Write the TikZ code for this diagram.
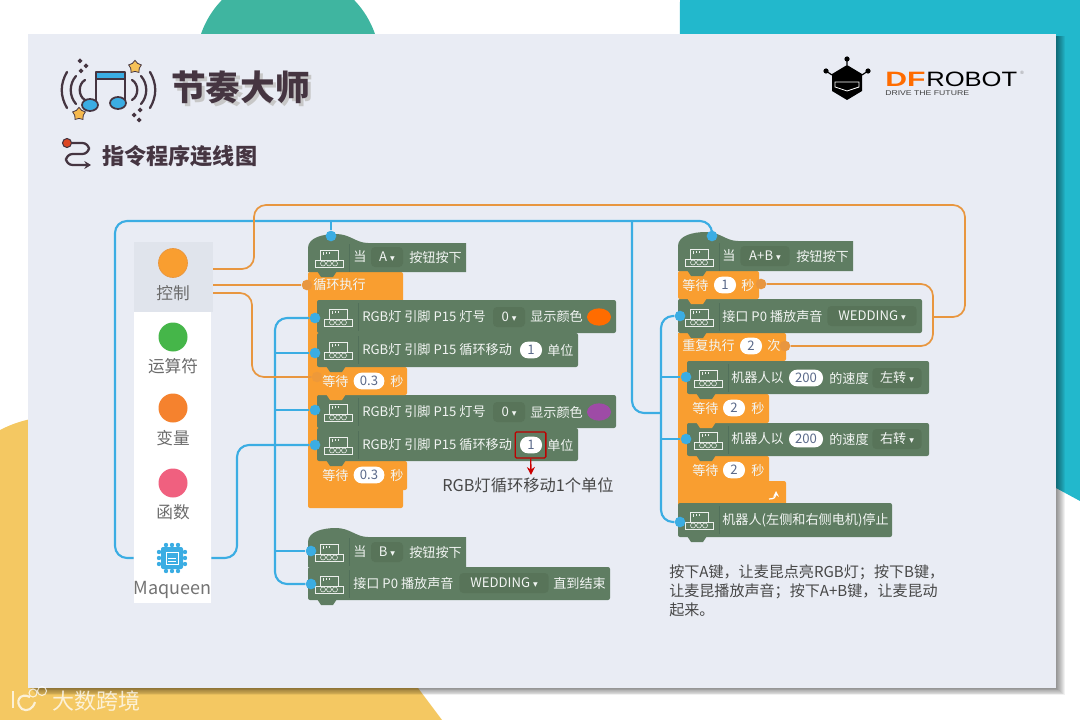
\documentclass[tikz,border=0pt]{standalone}
\usepackage{fontspec}
\usepackage{graphicx}
\setmainfont{Noto Sans CJK SC}
\newfontfamily\symfont{DejaVu Sans}
\newfontfamily\logofont{Liberation Sans}
\usetikzlibrary{shapes.geometric, arrows.meta}

\definecolor{cardbg}{HTML}{E9ECF4}
\definecolor{tealbg}{HTML}{22B8CC}
\definecolor{greenbg}{HTML}{3FB5A0}
\definecolor{yellowbg}{HTML}{F4C862}
\definecolor{blockgreen}{HTML}{5F7D62}
\definecolor{blockdark}{HTML}{587459}
\definecolor{blockline}{HTML}{52705A}
\definecolor{ctrlorange}{HTML}{F99E30}
\definecolor{wireblue}{HTML}{3BADE3}
\definecolor{wireorange}{HTML}{E8963F}
\definecolor{inkdark}{HTML}{453541}
\definecolor{pilltext}{HTML}{5B6A8A}

\tikzset{
  bluewire/.style={draw=wireblue, line width=1.6pt, rounded corners=9pt},
  orangewire/.style={draw=wireorange, line width=1.3pt, rounded corners=9pt},
  bluedot/.style={circle, fill=wireblue, inner sep=0pt, minimum size=8pt},
  orangedot/.style={circle, fill=wireorange, inner sep=0pt, minimum size=8pt},
  blocktxt/.style={font=\fontsize{9.85}{11}\selectfont, text=white!92!blockgreen, inner sep=0pt, anchor=west},
  whitepill/.style={fill=white, rounded corners=6pt, inner sep=0pt, minimum height=12.5pt, text=pilltext, font=\fontsize{9.85}{11}\selectfont},
  darkpill/.style={fill=blockdark, rounded corners=3pt, inner sep=0pt, minimum height=15pt, text=white!92!blockgreen, font=\fontsize{9.85}{11}\selectfont},
  palettelabel/.style={text=black!58, inner sep=0pt, font=\fontsize{12.5}{14}\selectfont},
  paletteitem/.style={inner sep=0pt, minimum width=58pt, minimum height=20pt},
  noticetxt/.style={text=black!72, inner sep=0pt, anchor=west, font=\fontsize{11.3}{13}\selectfont},
  roboticon/.pic={
    \draw[white!88!blockgreen, line width=.42pt]
      (-9,3) -- (-9,-8) -- (9,-8) -- (9,3)
      (-14,2) rectangle (14,9)
      (-6,-6) -- (-6,-3) (-3,-6) -- (-3,-4.5) (0,-6) -- (0,-4.5);
    \foreach \wx in {-6,0,6} \draw[white!88!blockgreen, line width=.42pt] (\wx,5.5) circle (2.5);
    \draw[blockline, line width=.5pt] (20,-14) -- (20,14);
  }
}
% x y box of a stacked block, tab below it
\newcommand{\stackblock}[5]{%
  \fill[#1, rounded corners=1.5pt] (#2,#3) rectangle (#4,#5);
  \fill[#1] (#2+9,#5-1) -- (#2+13,#5+5) -- (#2+25,#5+5) -- (#2+29,#5-1) -- cycle;
}
% block with a round cap on top
\newcommand{\hatblock}[4]{%
  \fill[blockgreen] (#1,#4) -- (#1,#2+14) .. controls (#1,#2+4) and (#1+14,#2) .. (#1+28,#2)
    .. controls (#1+42,#2) and (#1+48,#2+9) .. (#1+60,#2+9) -- (#3,#2+9) -- (#3,#4) -- cycle;
  \fill[blockgreen] (#1+9,#4-1) -- (#1+13,#4+5) -- (#1+25,#4+5) -- (#1+29,#4-1) -- cycle;
}
\newcommand{\dd}{{\symfont\fontsize{7}{8}\selectfont ▾}}

\begin{document}
\begin{tikzpicture}[x=.75pt, y=-.75pt]
  \useasboundingbox (0,0) rectangle (1080,720);
  \fill[white] (0,0) rectangle (1080,720);

  % backdrop shapes
  \fill[greenbg] (288,64) circle (92);
  \fill[tealbg] (680,0) -- (1080,0) -- (1080,501) -- (1056,488) -- (678,300) -- cycle;
  \fill[yellowbg] (0,430) .. controls (12,424) and (20,421) .. (40,417) -- (300,600) -- (418,688) -- (442,720) -- (0,720) -- cycle;

  % card with shadow
  \foreach \sh in {1,...,9} \fill[black, opacity=.055] (28+\sh,36) rectangle (1056+\sh,688+\sh*.8);
  \fill[cardbg] (28,34) rectangle (1056,688);

  % heading
  \foreach \ax/\ah in {63/18,72/14,81/10} {
    \draw[inkdark, line width=1.7pt, line cap=round] (\ax+4,90-\ah) .. controls (\ax-3,84) and (\ax-3,96) .. (\ax+4,90+\ah);
  }
  \foreach \ax/\ah in {154/18,145/14,136/10} {
    \draw[inkdark, line width=1.7pt, line cap=round] (\ax-4,90-\ah) .. controls (\ax+3,84) and (\ax+3,96) .. (\ax-4,90+\ah);
  }
  \fill[wireblue] (96,72) rectangle (125,79);
  \draw[inkdark, line width=2pt, line join=round] (96,104) -- (96,72) -- (125,72) -- (125,103);
  \draw[inkdark, line width=1pt] (96,79) -- (125,79);
  \draw[inkdark, fill=wireblue, line width=1.3pt] (90,105) ellipse (8 and 6);
  \draw[inkdark, fill=wireblue, line width=1.3pt] (118,103) ellipse (8 and 6);
  \node[star, star points=5, fill=yellowbg!90!orange, draw=inkdark, line width=.6pt, inner sep=0pt, minimum size=10pt] (staru) at (135,67) {};
  \node[star, star points=5, fill=yellowbg!80!orange, draw=inkdark, line width=.6pt, inner sep=0pt, minimum size=10pt] (starl) at (79,114) {};
  \foreach \sx/\sy in {80/61,86/66,81/71,140/110,134/115,139/120}
    \fill[inkdark] (\sx-2.5,\sy) -- (\sx,\sy-2.5) -- (\sx+2.5,\sy) -- (\sx,\sy+2.5) -- cycle;
  \node[text=inkdark, inner sep=0pt, anchor=west, font=\fontsize{26}{30}\bfseries\selectfont] (title) at (171,89)
    {\rlap{\hspace{2.4pt}\raisebox{-2.4pt}{\textcolor{black!22}{节奏大师}}}节奏大师};
  \draw[inkdark, line width=1.7pt, rounded corners=5pt, -{Stealth[length=5pt,width=6pt]}] (70,143) -- (89,143) -- (89,154) -- (66,154) -- (66,165) -- (91,165);
  \fill[red!45!brown, draw=inkdark, line width=.8pt] (67,143) circle (4.5);
  \node[text=inkdark, inner sep=0pt, anchor=west, font=\fontsize{16.6}{20}\bfseries\selectfont] (subtitle) at (102,156) {指令程序连线图};

  % robot logo
  \fill[black] (847,65) -- (862,74) -- (862,91) -- (847,100) -- (832,91) -- (832,74) -- cycle;
  \draw[black, line width=.9pt] (847,65) -- (847,59) (862,75) -- (868,71) (832,75) -- (826,71);
  \foreach \bx/\by in {847/59,868/71,826/71} \fill[black] (\bx,\by) circle (2.6);
  \draw[white, line width=.6pt] (835,82) -- (859,82) -- (859,87) -- (847,91) -- (835,87) -- cycle;
  \node[inner sep=0pt, anchor=west, text=orange!85!red, font=\logofont\fontsize{15.6}{16}\bfseries\selectfont] (logodf) at (885,79) {\scalebox{1.45}[1]{DF}};
  \node[inner sep=0pt, anchor=west, text=black, font=\logofont\fontsize{15.6}{16}\selectfont] (logorobot) at (926,79) {\scalebox{1.23}[1]{ROBOT}};
  \node[inner sep=0pt, anchor=west, text=black!75, font=\logofont\fontsize{5.2}{6}\selectfont] (logoline) at (885,93) {\scalebox{1.25}[1]{DRIVE THE FUTURE}};
  \node[inner sep=0pt, text=black!50, font=\logofont\fontsize{3.5}{4}\selectfont] (logoreg) at (1022,73) {®};

  % palette column
  \fill[white] (134,312) rectangle (211,603);
  \definecolor{panelgray}{HTML}{E0E4EC}
  \definecolor{opgreen}{HTML}{45B649}
  \definecolor{varorange}{HTML}{F5822E}
  \definecolor{funcpink}{HTML}{F0607F}
  \node[paletteitem, fill=panelgray, minimum width=59pt, minimum height=52.5pt] (ctrl) at (173.5,277) {};
  \fill[ctrlorange, draw=wireorange, line width=.5pt] (173,263) circle (14.5);
  \fill[opgreen] (173,337) circle (14.5);
  \fill[varorange] (173,408) circle (14.5);
  \fill[funcpink] (173,483) circle (14.5);
  \node[palettelabel] (ctrllbl) at (173,293) {控制};
  \node[palettelabel] (oplbl) at (173,366) {运算符};
  \node[palettelabel] (varlbl) at (173,438) {变量};
  \node[palettelabel] (funclbl) at (173,512) {函数};
  \node[paletteitem] (mq) at (172.5,558) {};
  \foreach \tk in {-6,0,6} {
    \fill[wireblue] (172+\tk,558-13) circle (2.2);
    \fill[wireblue] (172+\tk,558+13) circle (2.2);
    \fill[wireblue] (172-13,558+\tk) circle (2.2);
    \fill[wireblue] (172+13,558+\tk) circle (2.2);
  }
  \fill[wireblue, rounded corners=1.5pt] (161,547) rectangle (183,569);
  \draw[white, line width=.7pt] (166,552) rectangle (178,564) (168,558) -- (176,558) (168,561) -- (176,561);
  \node[palettelabel, text=black!55, font=\fontsize{13.5}{15}\selectfont] (mqlbl) at (172.5,590) {Maqueen};

  % left stacks
  \fill[ctrlorange, rounded corners=1.5pt] (308,272) rectangle (403,508);
  \stackblock{ctrlorange}{317}{461}{407}{490}
  \stackblock{blockgreen}{317}{428}{578}{461}
  \stackblock{blockgreen}{317}{395}{616}{428}
  \stackblock{ctrlorange}{317}{367}{407}{395}
  \stackblock{blockgreen}{317}{333}{578}{367}
  \stackblock{blockgreen}{317}{300}{616}{333}
  \hatblock{308}{234}{466}{272}
  \stackblock{blockgreen}{308}{567}{610}{600}
  \hatblock{308}{528}{466}{567}

  % right stack
  \fill[ctrlorange] (678,333) rectangle (691,505);
  \fill[ctrlorange, rounded corners=1.5pt] (678,481) rectangle (786,505);
  \fill[ctrlorange, rounded corners=1.5pt] (678,333) rectangle (786,361);
  \stackblock{blockgreen}{678}{503}{892}{537}
  \stackblock{ctrlorange}{687}{456}{769}{484}
  \stackblock{blockgreen}{687}{423}{929}{456}
  \stackblock{ctrlorange}{687}{394}{769}{423}
  \stackblock{blockgreen}{687}{361}{929}{394}
  \stackblock{blockgreen}{678}{299}{922}{333}
  \stackblock{ctrlorange}{678}{271}{759}{299}
  \hatblock{678}{232}{853}{271}

  % robot marks on the blocks
  \foreach \ix/\iy in {329/258,329/552,329/584,338/317,338/350,338/412,338/445,699/257,699/317,708/378,708/440,699/520}
    \pic at (\ix,\iy) {roboticon};

  % left block texts
  \node[blocktxt] (a0) at (353,257) {当};
  \node[darkpill, minimum width=24pt] (a1) at (387,257) {A \dd};
  \node[blocktxt] (a2) at (409,257) {按钮按下};
  \node[blocktxt] (loopa) at (313,285) {循环执行};
  \node[blocktxt] (l1) at (362,317) {RGB灯 引脚 P15 灯号};
  \node[darkpill, minimum width=24pt] (l1p) at (509,317) {0 \dd};
  \node[blocktxt] (l1b) at (530,317) {显示颜色};
  \node[fill=orange!85!red, ellipse, inner sep=0pt, minimum width=18pt, minimum height=13pt] (colora) at (599,317) {};
  \node[blocktxt] (l2) at (362,350) {RGB灯 引脚 P15 循环移动};
  \node[whitepill, minimum width=16.5pt] (l2p) at (531,350) {1};
  \node[blocktxt] (l2b) at (547,350) {单位};
  \node[blocktxt] (w1) at (322,381) {等待};
  \node[whitepill, minimum width=23pt] (w1p) at (369,381) {0.3};
  \node[blocktxt] (w1b) at (390,381) {秒};
  \node[blocktxt] (l3) at (362,412) {RGB灯 引脚 P15 灯号};
  \node[darkpill, minimum width=24pt] (l3p) at (509,412) {0 \dd};
  \node[blocktxt] (l3b) at (530,412) {显示颜色};
  \definecolor{colorpurple}{HTML}{9E4BA6}
  \node[fill=colorpurple, ellipse, inner sep=0pt, minimum width=18pt, minimum height=13pt] (colorb) at (599,412) {};
  \node[blocktxt] (l4) at (362,445) {RGB灯 引脚 P15 循环移动};
  \node[whitepill, minimum width=16.5pt] (l4p) at (531,445) {1};
  \node[blocktxt] (l4b) at (547,445) {单位};
  \node[blocktxt] (w2) at (322,475) {等待};
  \node[whitepill, minimum width=23pt] (w2p) at (369,475) {0.3};
  \node[blocktxt] (w2b) at (390,475) {秒};
  \node[blocktxt] (b0) at (353,552) {当};
  \node[darkpill, minimum width=24pt] (b1) at (387,552) {B \dd};
  \node[blocktxt] (b2) at (409,552) {按钮按下};
  \node[blocktxt] (s0) at (353,583) {接口 P0 播放声音};
  \node[darkpill, minimum width=67pt] (s1) at (504,583) {WEDDING \dd};
  \node[blocktxt] (s2) at (553,583) {直到结束};

  % note under the left stack
  \node[draw=red!75!black, line width=1pt, rounded corners=1pt, inner sep=0pt, minimum width=23pt, minimum height=19.5pt] (redbox) at (530.5,445) {};
  \node[noticetxt, font=\fontsize{12.2}{14}\selectfont] (redlbl) at (442,485) {RGB灯循环移动1个单位};
  \coordinate (redtip) at (531,475);
  \draw[red!80!black, line width=1pt, -{Stealth[length=6pt,width=6pt]}] (redbox) -- (redtip);

  % right block texts
  \node[blocktxt] (c0) at (722,256) {当};
  \node[darkpill, minimum width=37pt] (c1) at (765,256) {A+B \dd};
  \node[blocktxt] (c2) at (796,256) {按钮按下};
  \node[blocktxt] (w3) at (682,285) {等待};
  \node[whitepill, minimum width=16.5pt] (w3p) at (725,285) {1};
  \node[blocktxt] (w3b) at (741,285) {秒};
  \node[blocktxt] (p0) at (722,316) {接口 P0 播放声音};
  \node[darkpill, minimum width=67pt] (p1) at (872,316) {WEDDING \dd};
  \node[blocktxt] (rp0) at (682,346) {重复执行};
  \node[whitepill, minimum width=16.5pt] (rp1) at (751,346) {2};
  \node[blocktxt] (rp2) at (767,346) {次};
  \node[blocktxt] (m1) at (731,378) {机器人以};
  \node[whitepill, minimum width=25.5pt] (m1p) at (806,378) {200};
  \node[blocktxt] (m1b) at (829,378) {的速度};
  \node[darkpill, minimum width=37pt] (m1c) at (897,378) {左转 \dd};
  \node[blocktxt] (w4) at (692,408) {等待};
  \node[whitepill, minimum width=16.5pt] (w4p) at (734,408) {2};
  \node[blocktxt] (w4b) at (751,408) {秒};
  \node[blocktxt] (m2) at (731,439) {机器人以};
  \node[whitepill, minimum width=25.5pt] (m2p) at (806,439) {200};
  \node[blocktxt] (m2b) at (829,439) {的速度};
  \node[darkpill, minimum width=37pt] (m2c) at (897,439) {右转 \dd};
  \node[blocktxt] (w5) at (692,470) {等待};
  \node[whitepill, minimum width=16.5pt] (w5p) at (734,470) {2};
  \node[blocktxt] (w5b) at (751,470) {秒};
  \draw[white, line width=.9pt, -stealth] (769,499) .. controls (774,499) and (776,497) .. (776,491);
  \node[blocktxt] (stoptxt) at (722,520) {机器人(左侧和右侧电机)停止};
  \node[noticetxt] (help1) at (669,572) {按下A键，让麦昆点亮RGB灯；按下B键，};
  \node[noticetxt] (help2) at (669,591) {让麦昆播放声音；按下A+B键，让麦昆动};
  \node[noticetxt] (help3) at (669,610) {起来。};

  % wire ends on the blocks
  \node[bluedot] (dhata) at (331,236) {};
  \node[bluedot] (dl1) at (315,318) {};
  \node[bluedot] (dl2) at (315,353) {};
  \node[bluedot] (dl3) at (315,410) {};
  \node[bluedot] (dl4) at (315,445) {};
  \node[bluedot] (dhatb) at (311,551) {};
  \node[bluedot] (dplay) at (311,584) {};
  \node[bluedot] (dhatc) at (712,236) {};
  \node[bluedot] (dr1) at (680,316) {};
  \node[bluedot] (dr2) at (686,377) {};
  \node[bluedot] (dr3) at (686,439) {};
  \node[bluedot] (dstop) at (680,522) {};
  \node[orangedot] (dloop) at (307,285) {};
  \node[orangedot, opacity=.6] (dwait) at (317,377) {};
  \node[orangedot] (dw1) at (761,284) {};
  \node[orangedot] (drp) at (785,346) {};

  % junctions
  \coordinate (ctrlup) at (213,269);
  \coordinate (ctrlmid) at (213,285);
  \coordinate (ctrldn) at (213,293);
  \coordinate (treetop) at (275,318);
  \coordinate (treej) at (632,221);
  \coordinate (hatj) at (331,221);
  \coordinate (orj) at (933,317);

  % blue wires
  \draw[bluewire] (mq.west) -- (115,558) -- (115,221) -- (hatj) -- (treej) -- (712,221) -- (dhatc);
  \draw[bluewire] (hatj) -- (dhata);
  \draw[bluewire] (treej) -- (632,413) -- (661,413);
  \draw[bluewire] (dr1) -- (661,316) -- (661,522) -- (dstop);
  \draw[bluewire] (661,377) -- (dr2);
  \draw[bluewire] (661,439) -- (dr3);
  \draw[bluewire] (mq.east) -- (237,558) -- (237,445) -- (dl4);
  \draw[bluewire] (dl1) -- (treetop) -- (275,584) -- (dplay);
  \draw[bluewire] (275,353) -- (dl2);
  \draw[bluewire] (275,410) -- (dl3);
  \draw[bluewire] (275,551) -- (dhatb);

  % orange wires
  \draw[orangewire] (ctrlup) -- (254,269) -- (254,205) -- (965,205) -- (965,317) -- (orj);
  \draw[orangewire] (ctrlmid) -- (dloop);
  \draw[orangewire] (ctrldn) -- (252,293) -- (252,377) -- (dwait);
  \draw[orangewire] (dw1) -- (933,284) -- (933,346) -- (drp);

  % watermark
  \draw[white, opacity=.75, line width=1.8pt] (13,691) -- (13,708);
  \draw[white, opacity=.75, line width=1.6pt] (30,697) .. controls (20,692) and (14,702) .. (22,709) .. controls (27,712) and (33,709) .. (35,702);
  \draw[white, opacity=.75, line width=.8pt] (33,693) circle (4) (42,691) circle (4.5);
  \node[inner sep=0pt, anchor=west, text=white, opacity=.75, font=\fontsize{16.5}{18}\selectfont] (mark) at (52,701) {大数跨境};
\end{tikzpicture}
\end{document}
